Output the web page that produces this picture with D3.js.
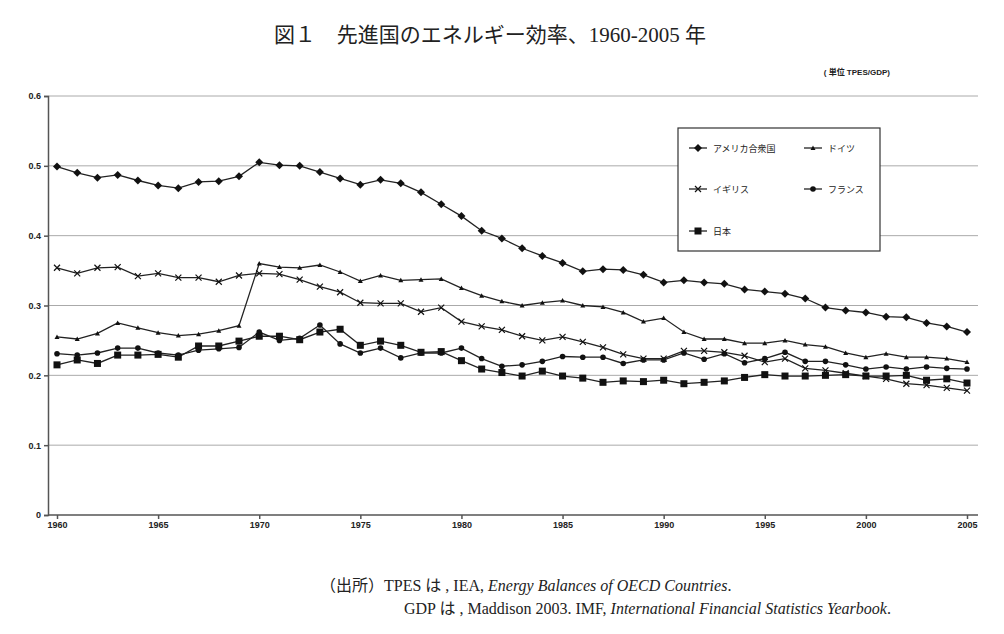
<!DOCTYPE html>
<html>
<head>
<meta charset="utf-8">
<script src="https://cdn.jsdelivr.net/npm/d3@7"></script>
<style>
body { margin: 0; background: #fff; }
svg text { fill: #222; }
</style>
</head>
<body>
<svg id="chart" width="1004" height="634"></svg>
<script>
// data
var years = d3.range(1960, 2006);
var usa = [0.499,0.490,0.483,0.487,0.479,0.472,0.468,0.477,0.478,0.485,0.505,0.501,0.500,0.491,0.482,0.473,0.480,0.475,0.462,0.445,0.428,0.407,0.396,0.382,0.371,0.361,0.349,0.352,0.351,0.344,0.333,0.336,0.333,0.331,0.323,0.320,0.317,0.310,0.297,0.293,0.290,0.284,0.283,0.275,0.270,0.262];
var germany = [0.255,0.252,0.260,0.275,0.268,0.261,0.257,0.259,0.264,0.271,0.360,0.355,0.354,0.358,0.348,0.335,0.343,0.336,0.337,0.338,0.325,0.314,0.306,0.300,0.304,0.307,0.300,0.298,0.290,0.277,0.282,0.262,0.252,0.252,0.246,0.246,0.250,0.244,0.241,0.232,0.226,0.231,0.226,0.226,0.224,0.219];
var uk = [0.354,0.346,0.354,0.355,0.342,0.346,0.340,0.340,0.334,0.343,0.346,0.345,0.337,0.327,0.319,0.304,0.303,0.303,0.291,0.297,0.277,0.270,0.265,0.256,0.250,0.255,0.248,0.240,0.230,0.224,0.224,0.235,0.235,0.233,0.228,0.219,0.224,0.210,0.207,0.203,0.199,0.195,0.188,0.186,0.182,0.178];
var france = [0.231,0.229,0.232,0.239,0.239,0.232,0.229,0.236,0.238,0.240,0.262,0.250,0.253,0.272,0.245,0.232,0.239,0.225,0.232,0.232,0.239,0.224,0.213,0.215,0.220,0.227,0.226,0.226,0.217,0.222,0.222,0.232,0.223,0.231,0.218,0.224,0.233,0.220,0.220,0.215,0.209,0.212,0.209,0.212,0.210,0.209];
var japan = [0.215,0.222,0.217,0.229,0.229,0.230,0.226,0.242,0.242,0.249,0.256,0.256,0.251,0.262,0.266,0.243,0.249,0.243,0.233,0.234,0.221,0.209,0.204,0.199,0.206,0.199,0.196,0.190,0.192,0.191,0.193,0.188,0.190,0.192,0.197,0.201,0.199,0.199,0.200,0.201,0.199,0.199,0.200,0.193,0.195,0.189];
var yTicks = [0, 0.1, 0.2, 0.3, 0.4, 0.5, 0.6];
var xTicks = [1960, 1965, 1970, 1975, 1980, 1985, 1990, 1995, 2000, 2005];

var series = [
    {name: "アメリカ合衆国", values: usa, marker: "diamond"},
    {name: "ドイツ", values: germany, marker: "triangle"},
    {name: "イギリス", values: uk, marker: "cross"},
    {name: "フランス", values: france, marker: "circle"},
    {name: "日本", values: japan, marker: "square"}
];

var svg = d3.select("#chart");
var plotLeft = 48, plotRight = 978, plotTop = 96, plotBottom = 515;

var x = d3.scaleLinear().domain([1960, 2005]).range([57, 967]);
var y = d3.scaleLinear().domain([0, 0.6]).range([plotBottom, plotTop]);

// title and notes
svg.append("text").attr("x", 490).attr("y", 42).attr("text-anchor", "middle")
    .style("font-family", "'Liberation Serif', 'Noto Sans CJK JP', serif").style("font-size", "21px")
    .text("図１　先進国のエネルギー効率、1960-2005 年");
svg.append("text").attr("x", 890).attr("y", 75).attr("text-anchor", "end")
    .style("font-family", "'Liberation Sans', 'Noto Sans CJK JP', sans-serif").style("font-size", "8px").style("font-weight", "bold")
    .text("( 単位 TPES/GDP)");

// gridlines
svg.append("g").selectAll("line").data(yTicks.slice(1)).join("line")
    .attr("x1", plotLeft).attr("x2", plotRight)
    .attr("y1", d => y(d)).attr("y2", d => y(d))
    .attr("stroke", "#aaa").attr("stroke-width", 1);

// axes
var yAxis = svg.append("g").attr("transform", `translate(${plotLeft},0)`)
    .call(d3.axisLeft(y).tickValues(yTicks).tickFormat(d => d === 0 ? "0" : d3.format(".1f")(d)).tickSize(4));
var xAxis = svg.append("g").attr("transform", `translate(0,${plotBottom})`)
    .call(d3.axisBottom(x).tickValues(xTicks).tickFormat(d3.format("d")).tickSize(4));
xAxis.select(".domain").attr("d", `M${plotLeft},0H${plotRight}`);
[yAxis, xAxis].forEach(a => {
    a.selectAll("path, line").attr("stroke", "#555").attr("stroke-width", 1.5);
    a.selectAll("text").style("font-family", "'Liberation Sans', sans-serif")
        .style("font-size", "9px").style("font-weight", "bold").attr("fill", "#222");
});

var line = d3.line().x((d, i) => x(years[i])).y(d => y(d));

function drawMarker(g, type, cx, cy) {
    if (type === "diamond") {
        g.append("path").attr("d", `M${cx},${cy-4}L${cx+4},${cy}L${cx},${cy+4}L${cx-4},${cy}Z`).attr("fill", "#111");
    } else if (type === "square") {
        g.append("rect").attr("x", cx-3.5).attr("y", cy-3.5).attr("width", 7).attr("height", 7).attr("fill", "#111");
    } else if (type === "circle") {
        g.append("circle").attr("cx", cx).attr("cy", cy).attr("r", 2.8).attr("fill", "#111");
    } else if (type === "triangle") {
        g.append("path").attr("d", `M${cx},${cy-2.5}L${cx+2.5},${cy+2}L${cx-2.5},${cy+2}Z`).attr("fill", "#111");
    } else if (type === "cross") {
        g.append("path").attr("d", `M${cx-3},${cy-3}L${cx+3},${cy+3}M${cx-3},${cy+3}L${cx+3},${cy-3}`)
            .attr("stroke", "#111").attr("stroke-width", 1.2);
    }
}

series.forEach(s => {
    svg.append("path").datum(s.values).attr("d", line)
        .attr("fill", "none").attr("stroke", "#222").attr("stroke-width", 1.3);
    var g = svg.append("g");
    s.values.forEach((v, i) => drawMarker(g, s.marker, x(years[i]), y(v)));
});

// legend
svg.append("rect").attr("x", 678).attr("y", 128).attr("width", 202).attr("height", 123)
    .attr("fill", "#fff").attr("stroke", "#333").attr("stroke-width", 1.2);
var legendPos = [[698, 148], [813, 148], [698, 189], [813, 189], [698, 231]];
series.forEach((s, i) => {
    var lx = legendPos[i][0], ly = legendPos[i][1];
    svg.append("line").attr("x1", lx - 9).attr("x2", lx + 9).attr("y1", ly).attr("y2", ly)
        .attr("stroke", "#222").attr("stroke-width", 1.3);
    drawMarker(svg, s.marker, lx, ly);
    svg.append("text").attr("x", lx + 15).attr("y", ly + 3.5)
        .style("font-family", "'Noto Sans CJK JP', sans-serif").style("font-size", "9px")
        .text(s.name);
});

// source notes
var foot = svg.append("g").style("font-family", "'Liberation Serif', 'Noto Sans CJK JP', serif").style("font-size", "16px");
var t1 = foot.append("text").attr("x", 320).attr("y", 591);
t1.append("tspan").text("（出所）TPES は , IEA, ");
t1.append("tspan").style("font-style", "italic").text("Energy Balances of OECD Countries");
t1.append("tspan").text(".");
var t2 = foot.append("text").attr("x", 404).attr("y", 614);
t2.append("tspan").text("GDP は , Maddison 2003. IMF, ");
t2.append("tspan").style("font-style", "italic").text("International Financial Statistics Yearbook");
t2.append("tspan").text(".");
</script>
</body>
</html>
